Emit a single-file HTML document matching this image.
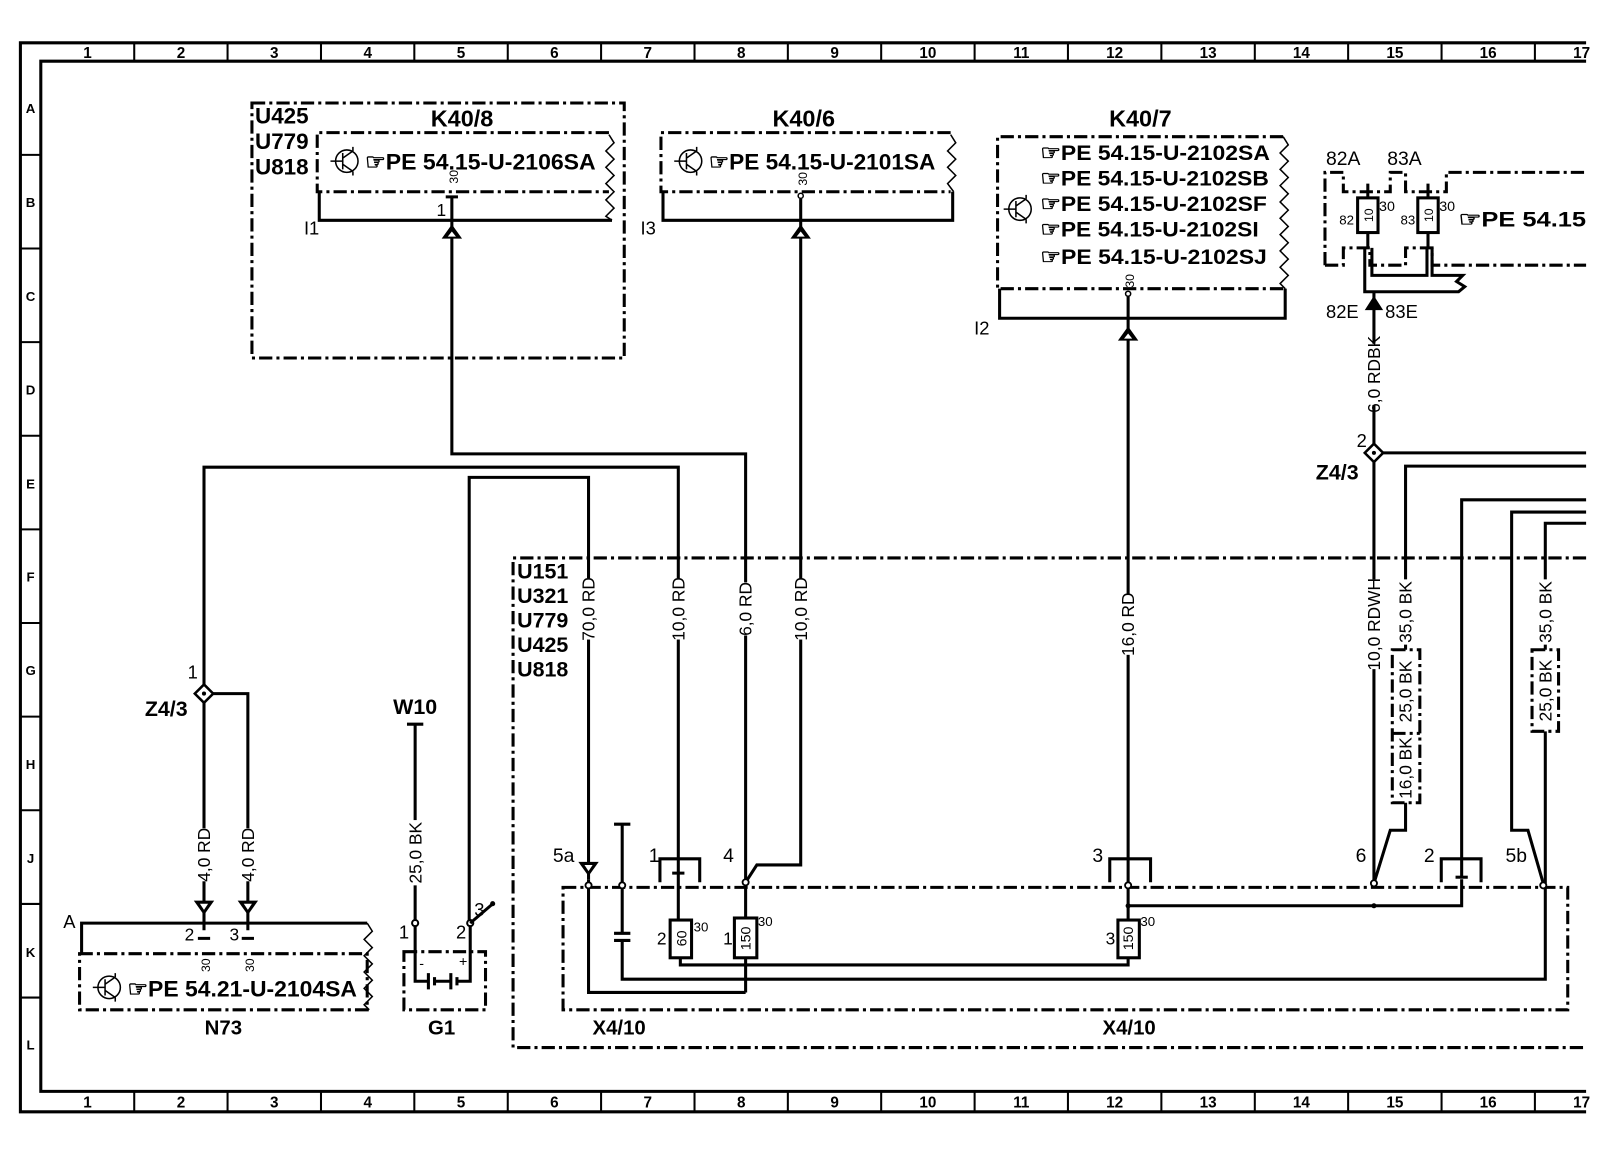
<!DOCTYPE html>
<html><head><meta charset="utf-8"><style>
html,body{margin:0;padding:0;background:#fff}
svg{display:block}
text{font-family:"Liberation Sans Narrow","Liberation Sans",sans-serif;fill:#000}
.b{font-weight:bold}
.w{stroke:#000;stroke-width:3;fill:none}
.t{stroke:#000;stroke-width:1.5;fill:none}
.dd{stroke:#000;stroke-width:3;fill:none;stroke-dasharray:13 4 3 4}
.wl{font-size:17px}
</style></head><body>
<svg width="1600" height="1150" viewBox="0 0 1600 1150" xmlns="http://www.w3.org/2000/svg">
<g transform="scale(1.02)">
<!-- frame -->
<path class="w" d="M1555,42 H20 V1090 H1555"/>
<path class="w" d="M1555,60 H40 V1070 H1555"/>
<g stroke="#000" stroke-width="2">
<path d="M131.6,42V60M223.1,42V60M314.7,42V60M406.2,42V60M497.8,42V60M589.3,42V60M680.9,42V60M772.4,42V60M863.9,42V60M955.5,42V60M1047,42V60M1138.6,42V60M1230.2,42V60M1321.7,42V60M1413.3,42V60M1504.8,42V60"/>
<path d="M131.6,1070V1090M223.1,1070V1090M314.7,1070V1090M406.2,1070V1090M497.8,1070V1090M589.3,1070V1090M680.9,1070V1090M772.4,1070V1090M863.9,1070V1090M955.5,1070V1090M1047,1070V1090M1138.6,1070V1090M1230.2,1070V1090M1321.7,1070V1090M1413.3,1070V1090M1504.8,1070V1090"/>
<path d="M20,151.8H40M20,243.6H40M20,335.4H40M20,427.2H40M20,519H40M20,610.8H40M20,702.6H40M20,794.4H40M20,886.2H40M20,978H40"/>
</g>
<g font-size="15" text-anchor="middle" class="b">
<text x="85.8" y="57">1</text><text x="177.4" y="57">2</text><text x="268.9" y="57">3</text><text x="360.5" y="57">4</text><text x="452" y="57">5</text><text x="543.5" y="57">6</text><text x="635" y="57">7</text><text x="726.7" y="57">8</text><text x="818.2" y="57">9</text><text x="909.7" y="57">10</text><text x="1001.3" y="57">11</text><text x="1092.8" y="57">12</text><text x="1184.4" y="57">13</text><text x="1275.9" y="57">14</text><text x="1367.5" y="57">15</text><text x="1459" y="57">16</text><text x="1550.6" y="57">17</text>
<text x="85.8" y="1086">1</text><text x="177.4" y="1086">2</text><text x="268.9" y="1086">3</text><text x="360.5" y="1086">4</text><text x="452" y="1086">5</text><text x="543.5" y="1086">6</text><text x="635" y="1086">7</text><text x="726.7" y="1086">8</text><text x="818.2" y="1086">9</text><text x="909.7" y="1086">10</text><text x="1001.3" y="1086">11</text><text x="1092.8" y="1086">12</text><text x="1184.4" y="1086">13</text><text x="1275.9" y="1086">14</text><text x="1367.5" y="1086">15</text><text x="1459" y="1086">16</text><text x="1550.6" y="1086">17</text>
</g>
<g font-size="13" text-anchor="middle" class="b">
<text x="30" y="111">A</text><text x="30" y="203">B</text><text x="30" y="295">C</text><text x="30" y="387">D</text><text x="30" y="479">E</text><text x="30" y="570">F</text><text x="30" y="662">G</text><text x="30" y="754">H</text><text x="30" y="846">J</text><text x="30" y="938">K</text><text x="30" y="1029">L</text>
</g>

<!-- K40/8 block -->
<rect class="dd" x="247" y="101" width="365" height="250"/>
<g class="b" font-size="22"><text x="250" y="121">U425</text><text x="250" y="146">U779</text><text x="250" y="171">U818</text></g>
<text class="b" x="453" y="124" font-size="23" text-anchor="middle">K40/8</text>
<path class="dd" d="M597,130 H311 V188 H597"/>
<polyline class="t" stroke-width="2.5" points="597,132 602,140 594,148 602,156 594,164 602,172 594,180 602,188 594,196 602,204 594,212 600,216"/>
<g transform="translate(340,158)"><circle r="11" class="t" stroke-width="2.5"/><path class="t" stroke-width="2.5" d="M-16,0H-4M-4,-8V8M-4,-3L6,-10M-4,3L6,10M6,-14V-10M6,10V14"/></g>
<text class="b" x="358" y="166" font-size="22" textLength="226" lengthAdjust="spacingAndGlyphs">☞PE  54.15-U-2106SA</text>
<path class="w" d="M313,188 V216 H600"/>
<text x="298" y="230" font-size="18">I1</text>
<g transform="translate(449,180) rotate(-90)"><text font-size="12">30</text></g>
<path class="w" d="M437,193 H449 M443,193 V445 H731 V865"/>
<text x="428" y="212" font-size="17">1</text>
<polygon points="443,220 433,234 453,234" fill="#000"/><polygon points="443,227 439,232 447,232" fill="#fff"/>

<!-- K40/6 -->
<text class="b" x="788" y="124" font-size="23" text-anchor="middle">K40/6</text>
<path class="dd" d="M932,130 H648 V188 H932"/>
<polyline class="t" stroke-width="2.5" points="932,132 937,140 929,148 937,156 929,164 937,172 929,180 935,188"/>
<g transform="translate(677,158)"><circle r="11" class="t" stroke-width="2.5"/><path class="t" stroke-width="2.5" d="M-16,0H-4M-4,-8V8M-4,-3L6,-10M-4,3L6,10M6,-14V-10M6,10V14"/></g>
<text class="b" x="695" y="166" font-size="22" textLength="222" lengthAdjust="spacingAndGlyphs">☞PE  54.15-U-2101SA</text>
<path class="w" d="M650,188 V216 H934 V188"/>
<text x="628" y="230" font-size="18">I3</text>
<g transform="translate(791,182) rotate(-90)"><text font-size="12">30</text></g>
<circle cx="785" cy="192" r="2.5" fill="#fff" stroke="#000" stroke-width="1.5"/>
<path class="w" d="M785,195 V848 H742 L731,865"/>
<polygon points="785,220 775,234 795,234" fill="#000"/><polygon points="785,227 781,232 789,232" fill="#fff"/>

<!-- K40/7 -->
<text class="b" x="1118" y="124" font-size="23" text-anchor="middle">K40/7</text>
<path class="dd" d="M1258,134 H978 V283 H1258"/>
<polyline class="t" stroke-width="2.5" points="1258,134 1263,142 1255,150 1263,158 1255,166 1263,174 1255,182 1263,190 1255,198 1263,206 1255,214 1263,222 1255,230 1263,238 1255,246 1263,254 1255,262 1263,270 1255,278 1260,283"/>
<g transform="translate(1000,205)"><circle r="11" class="t" stroke-width="2.5"/><path class="t" stroke-width="2.5" d="M-16,0H-4M-4,-8V8M-4,-3L6,-10M-4,3L6,10M6,-14V-10M6,10V14"/></g>
<g class="b" font-size="21">
<text x="1020" y="157" textLength="225" lengthAdjust="spacingAndGlyphs">☞PE  54.15-U-2102SA</text>
<text x="1020" y="182" textLength="224" lengthAdjust="spacingAndGlyphs">☞PE  54.15-U-2102SB</text>
<text x="1020" y="207" textLength="222" lengthAdjust="spacingAndGlyphs">☞PE  54.15-U-2102SF</text>
<text x="1020" y="232" textLength="214" lengthAdjust="spacingAndGlyphs">☞PE  54.15-U-2102SI</text>
<text x="1020" y="259" textLength="222" lengthAdjust="spacingAndGlyphs">☞PE  54.15-U-2102SJ</text>
</g>
<path class="w" d="M980,283 V312 H1260 V283"/>
<text x="955" y="328" font-size="18">I2</text>
<g transform="translate(1112,282) rotate(-90)"><text font-size="12">30</text></g>
<circle cx="1106" cy="288" r="2.5" fill="#fff" stroke="#000" stroke-width="1.5"/>
<path class="w" d="M1106,291 V865"/>
<polygon points="1106,320 1096,334 1116,334" fill="#000"/><polygon points="1106,327 1102,332 1110,332" fill="#fff"/>

<!-- fuses 82/83 -->
<text x="1300" y="162" font-size="19">82A</text><text x="1360" y="162" font-size="19">83A</text>
<path class="dd" d="M1299,260 V169 H1317 V188 H1363 V169 H1378 V188 H1418 V169 H1555"/>
<path class="dd" d="M1299,260 H1317 V243 H1343 V260 H1378 V243 H1404 V260 H1418 H1555"/>
<rect x="1331" y="194" width="20" height="34" class="w"/><rect x="1390" y="194" width="20" height="34" class="w"/>
<g transform="translate(1346,211) rotate(-90)"><text font-size="12" text-anchor="middle">10</text></g>
<g transform="translate(1405,211) rotate(-90)"><text font-size="12" text-anchor="middle">10</text></g>
<text x="1313" y="220" font-size="13">82</text><text x="1373" y="220" font-size="13">83</text>
<text x="1352" y="207" font-size="14">30</text><text x="1411" y="207" font-size="14">30</text>
<path class="w" d="M1341,180 V194 M1400,180 V194 M1341,228 V243 M1400,228 V243"/>
<path class="w" d="M1338,243 V286 H1430 L1436,281 L1428,276 L1434,270 H1404 V243 M1345,243 V270 H1399 V243"/>
<text class="b" x="1430" y="222" font-size="21" textLength="125" lengthAdjust="spacingAndGlyphs">☞PE  54.15</text>
<text x="1300" y="312" font-size="18">82E</text><text x="1358" y="312" font-size="18">83E</text>
<polygon points="1347,290 1338,304 1356,304" fill="#000"/>
<path class="w" d="M1347,286 V865"/>
<g transform="translate(1347,367) rotate(-90)"><rect x="-30" y="-8" width="60" height="16" fill="#fff"/><text class="wl" y="6" text-anchor="middle">6,0 RDBK</text></g>
<path class="w" d="M1347,444 H1555"/>
<polygon points="1347,435 1356,444 1347,453 1338,444" fill="#fff" stroke="#000" stroke-width="2.5"/><circle cx="1347" cy="444" r="2" fill="#000"/>
<text x="1330" y="438" font-size="18">2</text>
<text class="b" x="1290" y="470" font-size="21">Z4/3</text>
<g transform="translate(1347,612) rotate(-90)"><rect x="-44" y="-8" width="88" height="16" fill="#fff"/><text class="wl" y="6" text-anchor="middle">10,0 RDWH</text></g>

<path class="w" d="M1555,457 H1378 V637 M1378,787 V814 H1363 L1347,866"/>
<g transform="translate(1378,600) rotate(-90)"><rect x="-32" y="-8" width="64" height="16" fill="#fff"/><text class="wl" y="6" text-anchor="middle">35,0 BK</text></g>
<path class="dd" stroke-width="2.5" d="M1365,637 H1392 V787 H1365 Z M1365,719 H1392"/>
<g transform="translate(1378,678) rotate(-90)"><text class="wl" y="6" text-anchor="middle">25,0 BK</text></g>
<g transform="translate(1378,753) rotate(-90)"><text class="wl" y="6" text-anchor="middle">16,0 BK</text></g>
<path class="w" d="M1555,490 H1433 V860"/>
<path class="w" d="M1555,502 H1482 V814 H1498 L1513,866"/>
<path class="w" d="M1555,513 H1515 V637 M1515,717 V866"/>
<g transform="translate(1515,600) rotate(-90)"><rect x="-32" y="-8" width="64" height="16" fill="#fff"/><text class="wl" y="6" text-anchor="middle">35,0 BK</text></g>
<path class="dd" stroke-width="2.5" d="M1502,637 H1528 V717 H1502 Z"/>
<g transform="translate(1515,677) rotate(-90)"><text class="wl" y="6" text-anchor="middle">25,0 BK</text></g>

<!-- U151 box -->
<path class="dd" d="M1555,547 H503 V1027 H1555"/>
<g class="b" font-size="21"><text x="507" y="567">U151</text><text x="507" y="591">U321</text><text x="507" y="615">U779</text><text x="507" y="639">U425</text><text x="507" y="663">U818</text></g>

<!-- left wires -->
<path class="w" d="M200,672 V458 H665 V855"/>
<path class="w" d="M460,905 V468 H577 V862"/>
<g transform="translate(577,597) rotate(-90)"><rect x="-30" y="-8" width="60" height="16" fill="#fff"/><text class="wl" y="6" text-anchor="middle">70,0 RD</text></g>
<g transform="translate(665,597) rotate(-90)"><rect x="-30" y="-8" width="60" height="16" fill="#fff"/><text class="wl" y="6" text-anchor="middle">10,0 RD</text></g>
<g transform="translate(731,597) rotate(-90)"><rect x="-26" y="-8" width="52" height="16" fill="#fff"/><text class="wl" y="6" text-anchor="middle">6,0 RD</text></g>
<g transform="translate(785,597) rotate(-90)"><rect x="-30" y="-8" width="60" height="16" fill="#fff"/><text class="wl" y="6" text-anchor="middle">10,0 RD</text></g>
<g transform="translate(1106,612) rotate(-90)"><rect x="-30" y="-8" width="60" height="16" fill="#fff"/><text class="wl" y="6" text-anchor="middle">16,0 RD</text></g>

<!-- Z4/3 left -->
<path class="w" d="M200,688 V912 M208,680 H243 V912"/>
<polygon points="200,671 209,680 200,689 191,680" fill="#fff" stroke="#000" stroke-width="2.5"/><circle cx="200" cy="680" r="2" fill="#000"/>
<text x="184" y="665" font-size="18">1</text>
<text class="b" x="142" y="702" font-size="21">Z4/3</text>
<g transform="translate(200,838) rotate(-90)"><rect x="-26" y="-8" width="52" height="16" fill="#fff"/><text class="wl" y="6" text-anchor="middle">4,0 RD</text></g>
<g transform="translate(243,838) rotate(-90)"><rect x="-26" y="-8" width="52" height="16" fill="#fff"/><text class="wl" y="6" text-anchor="middle">4,0 RD</text></g>
<polygon points="190,883 210,883 200,897" fill="#000"/><polygon points="196,886 204,886 200,892" fill="#fff"/>
<polygon points="233,883 253,883 243,897" fill="#000"/><polygon points="239,886 247,886 243,892" fill="#fff"/>
<path class="w" d="M194,920 H206 M237,920 H249"/>

<!-- N73 -->
<text x="62" y="910" font-size="18">A</text>
<path class="w" stroke-width="2" d="M80,935 V905 H360"/>
<rect class="dd" x="78" y="935" width="282" height="55"/>
<polyline class="t" stroke-width="2.5" points="360,905 365,913 357,921 365,929 357,937 365,945 357,953 365,961 357,969 365,977 357,985 362,990"/>
<text x="181" y="922" font-size="17">2</text><text x="225" y="922" font-size="17">3</text>
<g transform="translate(206,953) rotate(-90)"><text font-size="12">30</text></g>
<g transform="translate(249,953) rotate(-90)"><text font-size="12">30</text></g>
<g transform="translate(107,968)"><circle r="11" class="t" stroke-width="2.5"/><path class="t" stroke-width="2.5" d="M-16,0H-4M-4,-8V8M-4,-3L6,-10M-4,3L6,10M6,-14V-10M6,10V14"/></g>
<text class="b" x="125" y="977" font-size="22" textLength="225" lengthAdjust="spacingAndGlyphs">☞PE  54.21-U-2104SA</text>
<text class="b" x="219" y="1014" font-size="20" text-anchor="middle">N73</text>

<!-- W10 / G1 -->
<text class="b" x="407" y="700" font-size="21" text-anchor="middle">W10</text>
<path class="w" d="M399,710 H415 M407,710 V905"/>
<g transform="translate(407,836) rotate(-90)"><rect x="-32" y="-8" width="64" height="16" fill="#fff"/><text class="wl" y="6" text-anchor="middle">25,0 BK</text></g>
<text x="391" y="920" font-size="18">1</text><text x="447" y="920" font-size="18">2</text><text x="465" y="898" font-size="18">3</text>
<circle cx="407" cy="905" r="3" fill="#fff" stroke="#000" stroke-width="2"/>
<circle cx="461" cy="905" r="3" fill="#fff" stroke="#000" stroke-width="2"/>
<path class="w" d="M461,905 L482,887"/>
<circle cx="483" cy="886" r="2.5" fill="#000"/>
<rect class="dd" x="396" y="933" width="80" height="57"/>
<path class="w" stroke-width="2" d="M407,908 V962 H420 M420,954 V970 M426,958 V966 M426,962 H442 M442,954 V970 M448,958 V966 M448,962 H461 V908"/>
<text x="411" y="949" font-size="14">-</text><text x="450" y="947" font-size="14">+</text>
<text class="b" x="433" y="1014" font-size="20" text-anchor="middle">G1</text>

<!-- X4/10 -->
<path class="dd" d="M552,870 H1537 V990 H552 Z"/>
<text class="b" x="607" y="1014" font-size="20" text-anchor="middle">X4/10</text>
<text class="b" x="1107" y="1014" font-size="20" text-anchor="middle">X4/10</text>
<text x="542" y="845" font-size="19">5a</text>
<polygon points="567,845 587,845 577,859" fill="#000"/><polygon points="573,848 581,848 577,854" fill="#fff"/>
<path class="w" d="M577,862 V973 H731"/>
<path class="w" d="M602,808 H618 M610,808 V915 M602,915 H618 M602,922 H618 M610,922 V960 H1515 V870"/>
<path class="w" stroke-width="2.5" d="M647,865 V842 H686 V865"/>
<text x="636" y="845" font-size="19">1</text>
<path class="w" d="M659,856 H671 M665,856 V902 M667,939 V946 H1106 V939"/>
<rect class="w" x="657" y="902" width="21" height="37"/>
<g transform="translate(668,920) rotate(-90)"><text font-size="14" text-anchor="middle" y="5">60</text></g>
<text x="644" y="926" font-size="17">2</text><text x="680" y="913" font-size="13">30</text>
<text x="709" y="845" font-size="19">4</text>
<path class="w" d="M731,865 V900 M731,939 V973"/>
<rect class="w" x="720" y="900" width="22" height="39"/>
<g transform="translate(731,920) rotate(-90)"><text font-size="14" text-anchor="middle" y="5">150</text></g>
<text x="709" y="926" font-size="17">1</text><text x="743" y="908" font-size="13">30</text>
<path class="w" stroke-width="2.5" d="M1088,865 V842 H1128 V865"/>
<text x="1071" y="845" font-size="19">3</text>
<path class="w" d="M1106,865 V902 M1106,888 H1347 M1347,888 H1433 V862"/>
<rect class="w" x="1096" y="902" width="21" height="37"/>
<g transform="translate(1106,920) rotate(-90)"><text font-size="14" text-anchor="middle" y="5">150</text></g>
<text x="1084" y="926" font-size="17">3</text><text x="1118" y="908" font-size="13">30</text>
<circle cx="1106" cy="888" r="2.5" fill="#000"/><circle cx="1347" cy="888" r="2.5" fill="#000"/>
<path class="w" stroke-width="2.5" d="M1413,865 V842 H1452 V865"/>
<path class="w" d="M1427,860 H1439"/>
<text x="1396" y="845" font-size="19">2</text>
<text x="1329" y="845" font-size="19">6</text>
<text x="1476" y="845" font-size="19">5b</text>
<g fill="#fff" stroke="#000" stroke-width="1.8">
<circle cx="577" cy="868" r="3"/><circle cx="610" cy="868" r="3"/><circle cx="731" cy="865" r="3"/><circle cx="1106" cy="868" r="3"/><circle cx="1347" cy="866" r="3"/><circle cx="1513" cy="868" r="3"/>
</g>
</g>
</svg>
</body></html>
